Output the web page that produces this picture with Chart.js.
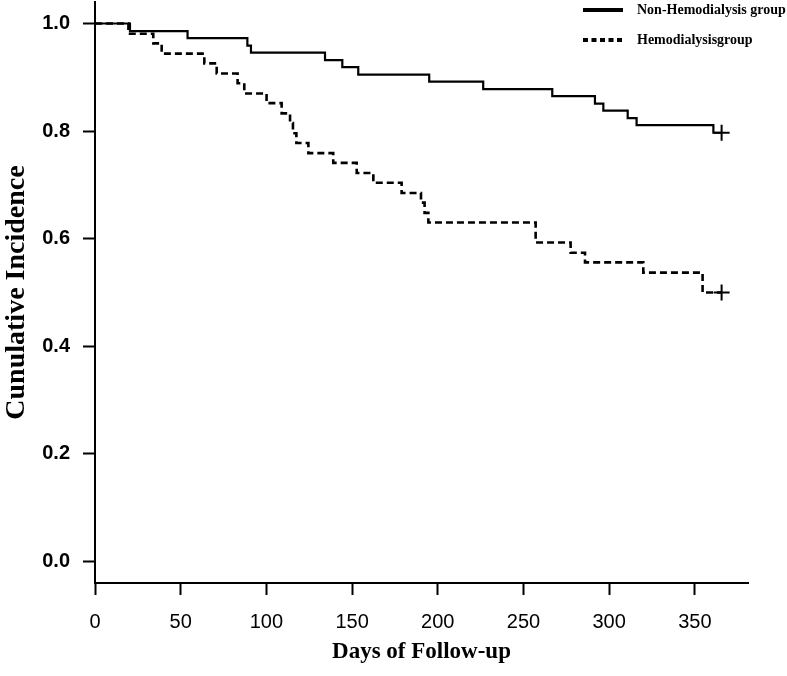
<!DOCTYPE html>
<html><head><meta charset="utf-8">
<script src="https://cdn.jsdelivr.net/npm/chart.js@4.4.1/dist/chart.umd.min.js"></script>
<style>html,body{margin:0;padding:0;background:#fff;} #wrap{width:787px;height:676px;position:relative;}</style>
</head><body><div id="wrap"><canvas id="c" width="787" height="676"></canvas></div>
<script>
const seriesNames = ['Non-Hemodialysis group', 'Hemodialysisgroup'];
const nonHdDays = [0, 20.4, 54, 88.9, 91, 134.2, 144.3, 153.6, 195, 226.5, 266.8, 291.7, 296.6, 310.8, 316, 360.8, 365.6];
const nonHdValues = [1, 0.986, 0.973, 0.959, 0.946, 0.932, 0.919, 0.905, 0.892, 0.878, 0.865, 0.851, 0.838, 0.824, 0.811, 0.797, 0.797];
const hdDays = [0, 19.5, 34, 38.9, 63.8, 71, 83.2, 87.1, 100.1, 108.9, 113.8, 115.5, 117.5, 124.5, 139, 152.7, 162.4, 178.9, 190.2, 192.3, 194.5, 257.1, 277.5, 285.9, 319.9, 354.5, 365.6];
const hdValues = [1, 0.981, 0.963, 0.944, 0.926, 0.907, 0.889, 0.870, 0.852, 0.833, 0.815, 0.796, 0.778, 0.759, 0.741, 0.722, 0.704, 0.685, 0.667, 0.648, 0.630, 0.593, 0.574, 0.556, 0.537, 0.500, 0.500];
const censorDays = [365.6, 365.6];
const censorValues = [0.797, 0.500];
const xTicks = [0, 50, 100, 150, 200, 250, 300, 350];
const yTicks = [0, 0.2, 0.4, 0.6, 0.8, 1.0];
const xTitle = 'Days of Follow-up';
const yTitle = 'Cunulative Incidence';

const toPts = (xs, ys) => xs.map((x, i) => ({x: x, y: ys[i]}));

const legendPlugin = {
  id: 'customLegend',
  afterDraw(chart) {
    const ctx = chart.ctx;
    ctx.save();
    ctx.strokeStyle = '#000';
    ctx.fillStyle = '#000';
    ctx.lineWidth = 4;
    ctx.setLineDash([]);
    ctx.beginPath(); ctx.moveTo(583, 10); ctx.lineTo(623, 10); ctx.stroke();
    ctx.setLineDash([5, 3.5]);
    ctx.beginPath(); ctx.moveTo(583, 40); ctx.lineTo(624, 40); ctx.stroke();
    ctx.setLineDash([]);
    ctx.font = 'bold 14px "Liberation Serif", "Times New Roman", serif';
    ctx.textBaseline = 'middle';
    ctx.textAlign = 'left';
    ctx.fillText(seriesNames[0], 637, 10);
    ctx.fillText(seriesNames[1], 637, 40);
    ctx.restore();
  }
};

new Chart(document.getElementById('c'), {
  type: 'scatter',
  data: {
    datasets: [
      {label: seriesNames[0], data: toPts(nonHdDays, nonHdValues), showLine: true, stepped: 'before',
       borderColor: '#000', borderWidth: 2.2, pointRadius: 0, fill: false},
      {label: seriesNames[1], data: toPts(hdDays, hdValues), showLine: true, stepped: 'before',
       borderColor: '#000', borderWidth: 2.6, borderDash: [7, 4], pointRadius: 0, fill: false},
      {label: 'censored', data: toPts(censorDays, censorValues), showLine: false,
       pointStyle: 'cross', pointRadius: 8, pointBorderWidth: 2, borderColor: '#000', backgroundColor: '#000'}
    ]
  },
  options: {
    responsive: false,
    animation: false,
    layout: {autoPadding: false, padding: {top: 2, right: 39, left: 0, bottom: 0}},
    plugins: {legend: {display: false}, tooltip: {enabled: false}},
    scales: {
      x: {
        type: 'linear', min: 0, max: 381,
        afterBuildTicks: (s) => { s.ticks = xTicks.map(v => ({value: v})); },
        afterFit: (s) => { s.height = 93; s.paddingLeft = 0; s.paddingRight = 0; },
        grid: {drawOnChartArea: false, drawTicks: true, tickLength: 12, tickWidth: 2, tickColor: '#000'},
        border: {display: true, color: '#000', width: 2},
        ticks: {color: '#000', padding: 15, maxRotation: 0, autoSkip: false,
                font: {family: '"Liberation Sans", Arial, sans-serif', size: 20}},
        title: {display: true, text: xTitle, color: '#000', padding: {top: 0, bottom: 10},
                font: {family: '"Liberation Serif", "Times New Roman", serif', size: 23, weight: 'bold'}}
      },
      y: {
        type: 'linear', min: -0.04, max: 1.04,
        afterBuildTicks: (s) => { s.ticks = yTicks.map(v => ({value: v})); },
        afterFit: (s) => { s.width = 95; s.paddingTop = 0; s.paddingBottom = 0; },
        grid: {drawOnChartArea: false, drawTicks: true, tickLength: 12, tickWidth: 2, tickColor: '#000'},
        border: {display: true, color: '#000', width: 2},
        ticks: {color: '#000', padding: 13, callback: (v) => Number(v).toFixed(1),
                font: {family: '"Liberation Sans", Arial, sans-serif', size: 20, weight: 'bold'}},
        title: {display: true, text: yTitle, color: '#000', padding: {top: 0, bottom: 0},
                font: {family: '"Liberation Serif", "Times New Roman", serif', size: 28, weight: 'bold'}}
      }
    }
  },
  plugins: [legendPlugin]
});
</script>
</body></html>
